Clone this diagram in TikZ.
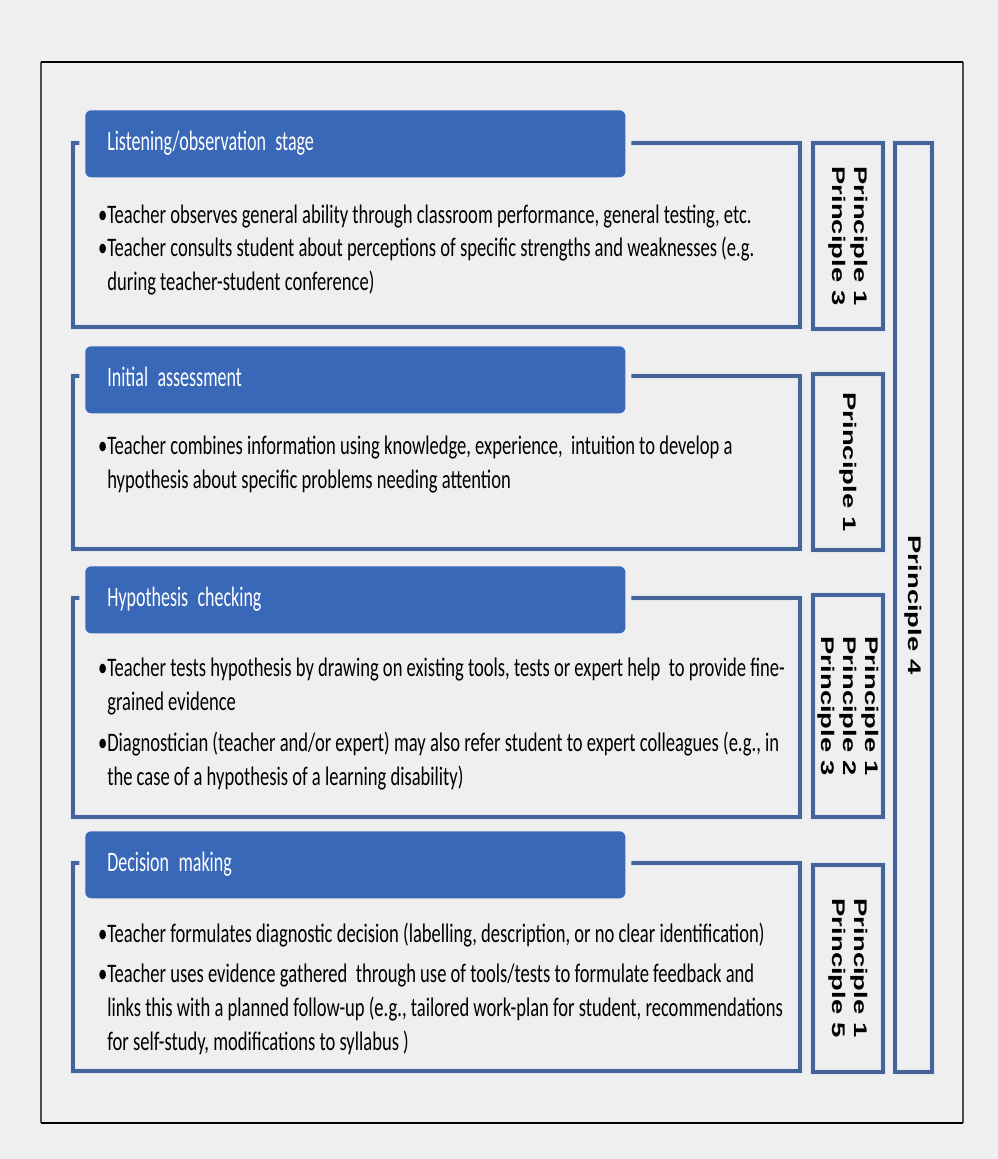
\documentclass[tikz,border=0pt]{standalone}
\usepackage{fontspec}
\setmainfont{Carlito}[FakeStretch=0.695]
\newfontfamily\hdfont{Carlito}[FakeStretch=0.64]
\newfontfamily\prfont{Liberation Sans}[FakeStretch=1.5]
\usepackage{tikz}
\usetikzlibrary{backgrounds}
\definecolor{bgcol}{HTML}{EFEFEF}
\definecolor{hdrblue}{HTML}{3A68B8}
\definecolor{boxblue}{HTML}{45659A}

\begin{document}
\begin{tikzpicture}[x=0.025cm, y=-0.025cm,
	background rectangle/.style={fill=bgcol}, show background rectangle, inner frame sep=0pt,
	frame/.style={draw=boxblue, line width=2.6pt, preaction={draw=hdrblue!15, line width=4.2pt}},
	pbox/.style={draw=boxblue, line width=2.2pt, preaction={draw=hdrblue!15, line width=3.8pt}},
	header/.style={fill=hdrblue, rounded corners=0.15cm, preaction={draw=bgcol, line width=0.3cm},
		anchor=north west, minimum width=13.5cm, minimum height=1.675cm, inner xsep=0.55cm,
		text width=12.4cm, align=left, text=white, text height=1.0em, text depth=0em,
		font=\hdfont\fontsize{20pt}{24pt}\selectfont},
	item/.style={anchor=base west, inner sep=0pt, align=left, font=\fontsize{19pt}{24.1pt}\selectfont},
	ptext/.style={rotate=-90, align=center, inner sep=0pt, font=\prfont\bfseries\fontsize{13pt}{15.6pt}\selectfont}]

	\useasboundingbox (0,0) rectangle (998,1159);

	% outer frame
	\draw[gray!60!black, line width=0.8pt] (41,62) -- (41,1123) (963,62) -- (963,1123);
	\draw[black, line width=1.8pt] (41,62) -- (963,62) (41,1123) -- (963,1123);

	% stage frames
	\draw[frame] (73,143) rectangle (800,327);
	\draw[frame] (73,376) rectangle (800,549);
	\draw[frame] (73,598) rectangle (800,817);
	\draw[frame] (73,863) rectangle (800,1071);

	% stage headers
	\node[header] (h1) at (85,110) {Listening/observation stage};
	\node[header] (h2) at (85,346) {Initial assessment};
	\node[header] (h3) at (85,566) {Hypothesis checking};
	\node[header] (h4) at (85,831) {Decision making};

	% bullet texts (base = last line)
	\node[item] (t11) at (107,223) {\llap{•}Teacher observes general ability through classroom performance, general testing, etc.};
	\node[item] (t12) at (107,290) {\llap{•}Teacher consults student about perceptions of specific strengths and weaknesses (e.g.\\ during teacher-student conference)};
	\node[item] (t21) at (107,488) {\llap{•}Teacher combines information using knowledge, experience,\ \ intuition to develop a\\ hypothesis about specific problems needing attention};
	\node[item] (t31) at (107,710) {\llap{•}Teacher tests hypothesis by drawing on existing tools, tests or expert help\ \ to provide fine-\\ grained evidence};
	\node[item] (t32) at (107,785) {\llap{•}Diagnostician (teacher and/or expert) may also refer student to expert colleagues (e.g., in\\ the case of a hypothesis of a learning disability)};
	\node[item] (t41) at (107,942) {\llap{•}Teacher formulates diagnostic decision (labelling, description, or no clear identification)};
	\node[item] (t42) at (107,1050) {\llap{•}Teacher uses evidence gathered\ \ through use of tools/tests to formulate feedback and\\ links this with a planned follow-up (e.g., tailored work-plan for student, recommendations\\ for self-study, modifications to syllabus )};

	% principle boxes
	\draw[pbox] (813,143) rectangle (883,329);
	\draw[pbox] (813,374) rectangle (883,550);
	\draw[pbox] (813,595) rectangle (883,817);
	\draw[pbox] (813,865) rectangle (883,1072);
	\draw[pbox] (895,143) rectangle (932,1072);

	\node[ptext] (p1) at (848,236) {Principle 1\\Principle 3};
	\node[ptext] (p2) at (848,462) {Principle 1};
	\node[ptext] (p3) at (848,706) {Principle 1\\Principle 2\\Principle 3};
	\node[ptext] (p4) at (848,968) {Principle 1\\Principle 5};
	\node[ptext] (p5) at (913,605) {Principle 4};

\end{tikzpicture}
\end{document}
